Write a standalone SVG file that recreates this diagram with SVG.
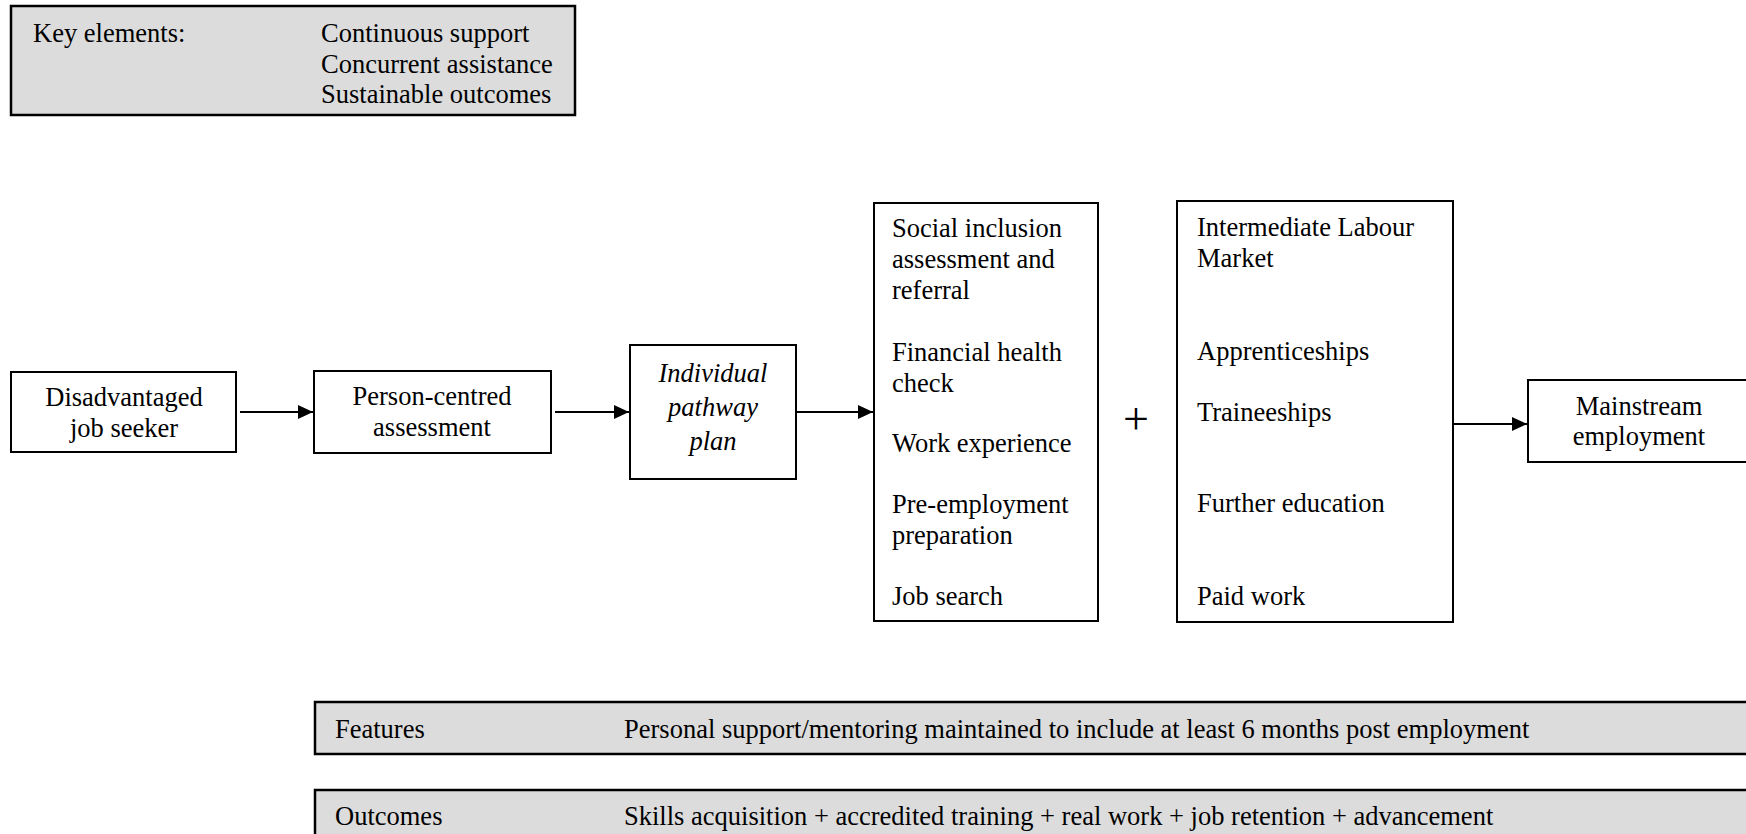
<svg xmlns="http://www.w3.org/2000/svg" width="1746" height="834" viewBox="0 0 1746 834">
<style>
text{font-family:"Liberation Serif","Times New Roman",serif;font-size:26.5px;fill:#000}
.c{text-anchor:middle}
.i{font-style:italic}
.box{fill:#fff;stroke:#000;stroke-width:2}
.gray{fill:#dcdcdc;stroke:#000;stroke-width:2.5}
.conn{stroke:#000;stroke-width:2;fill:none}
</style>
<defs>
<marker id="ah" viewBox="0 0 15 14" refX="15" refY="7" markerWidth="15" markerHeight="14" markerUnits="userSpaceOnUse" orient="auto">
<path d="M0,0 L15,7 L0,14 Z" fill="#000"/>
</marker>
</defs>
<g id="key">
<rect class="gray" x="11" y="6" width="564" height="109"/>
<text x="33" y="42">Key elements:</text>
<text x="321" y="42">Continuous support</text>
<text x="321" y="73">Concurrent assistance</text>
<text x="321" y="103">Sustainable outcomes</text>
</g>
<g id="connectors">
<line class="conn" x1="240" y1="412" x2="313" y2="412" marker-end="url(#ah)"/>
<line class="conn" x1="555" y1="412" x2="629" y2="412" marker-end="url(#ah)"/>
<line class="conn" x1="797" y1="412" x2="873" y2="412" marker-end="url(#ah)"/>
<line class="conn" x1="1453" y1="424" x2="1527" y2="424" marker-end="url(#ah)"/>
</g>
<g id="n1">
<rect class="box" x="11" y="372" width="225" height="80"/>
<text class="c" x="124" y="406">Disadvantaged</text>
<text class="c" x="124" y="437">job seeker</text>
</g>
<g id="n2">
<rect class="box" x="314" y="371" width="237" height="82"/>
<text class="c" x="432" y="405">Person-centred</text>
<text class="c" x="432" y="436">assessment</text>
</g>
<g id="n3">
<rect class="box" x="630" y="345" width="166" height="134"/>
<text class="c i" x="713" y="382">Individual</text>
<text class="c i" x="713" y="416">pathway</text>
<text class="c i" x="713" y="450">plan</text>
</g>
<g id="n4">
<rect class="box" x="874" y="203" width="224" height="418"/>
<text x="892" y="237">Social inclusion</text>
<text x="892" y="268">assessment and</text>
<text x="892" y="299">referral</text>
<text x="892" y="361">Financial health</text>
<text x="892" y="392">check</text>
<text x="892" y="452">Work experience</text>
<text x="892" y="513">Pre-employment</text>
<text x="892" y="544">preparation</text>
<text x="892" y="605">Job search</text>
</g>
<g id="plus">
<text class="c" x="1136" y="434" style="font-size:46px">+</text>
</g>
<g id="n5">
<rect class="box" x="1177" y="201" width="276" height="421"/>
<text x="1197" y="236">Intermediate Labour</text>
<text x="1197" y="267">Market</text>
<text x="1197" y="360">Apprenticeships</text>
<text x="1197" y="421">Traineeships</text>
<text x="1197" y="512">Further education</text>
<text x="1197" y="605">Paid work</text>
</g>
<g id="n6">
<rect class="box" x="1528" y="380" width="260" height="82"/>
<text class="c" x="1639" y="415">Mainstream</text>
<text class="c" x="1639" y="445">employment</text>
</g>
<g id="features">
<rect class="gray" x="315" y="702" width="1500" height="52"/>
<text x="335" y="738">Features</text>
<text x="624" y="738">Personal support/mentoring maintained to include at least 6 months post employment</text>
</g>
<g id="outcomes">
<rect class="gray" x="315" y="790" width="1500" height="60"/>
<text x="335" y="825">Outcomes</text>
<text x="624" y="825">Skills acquisition + accredited training + real work + job retention + advancement</text>
</g>
</svg>
